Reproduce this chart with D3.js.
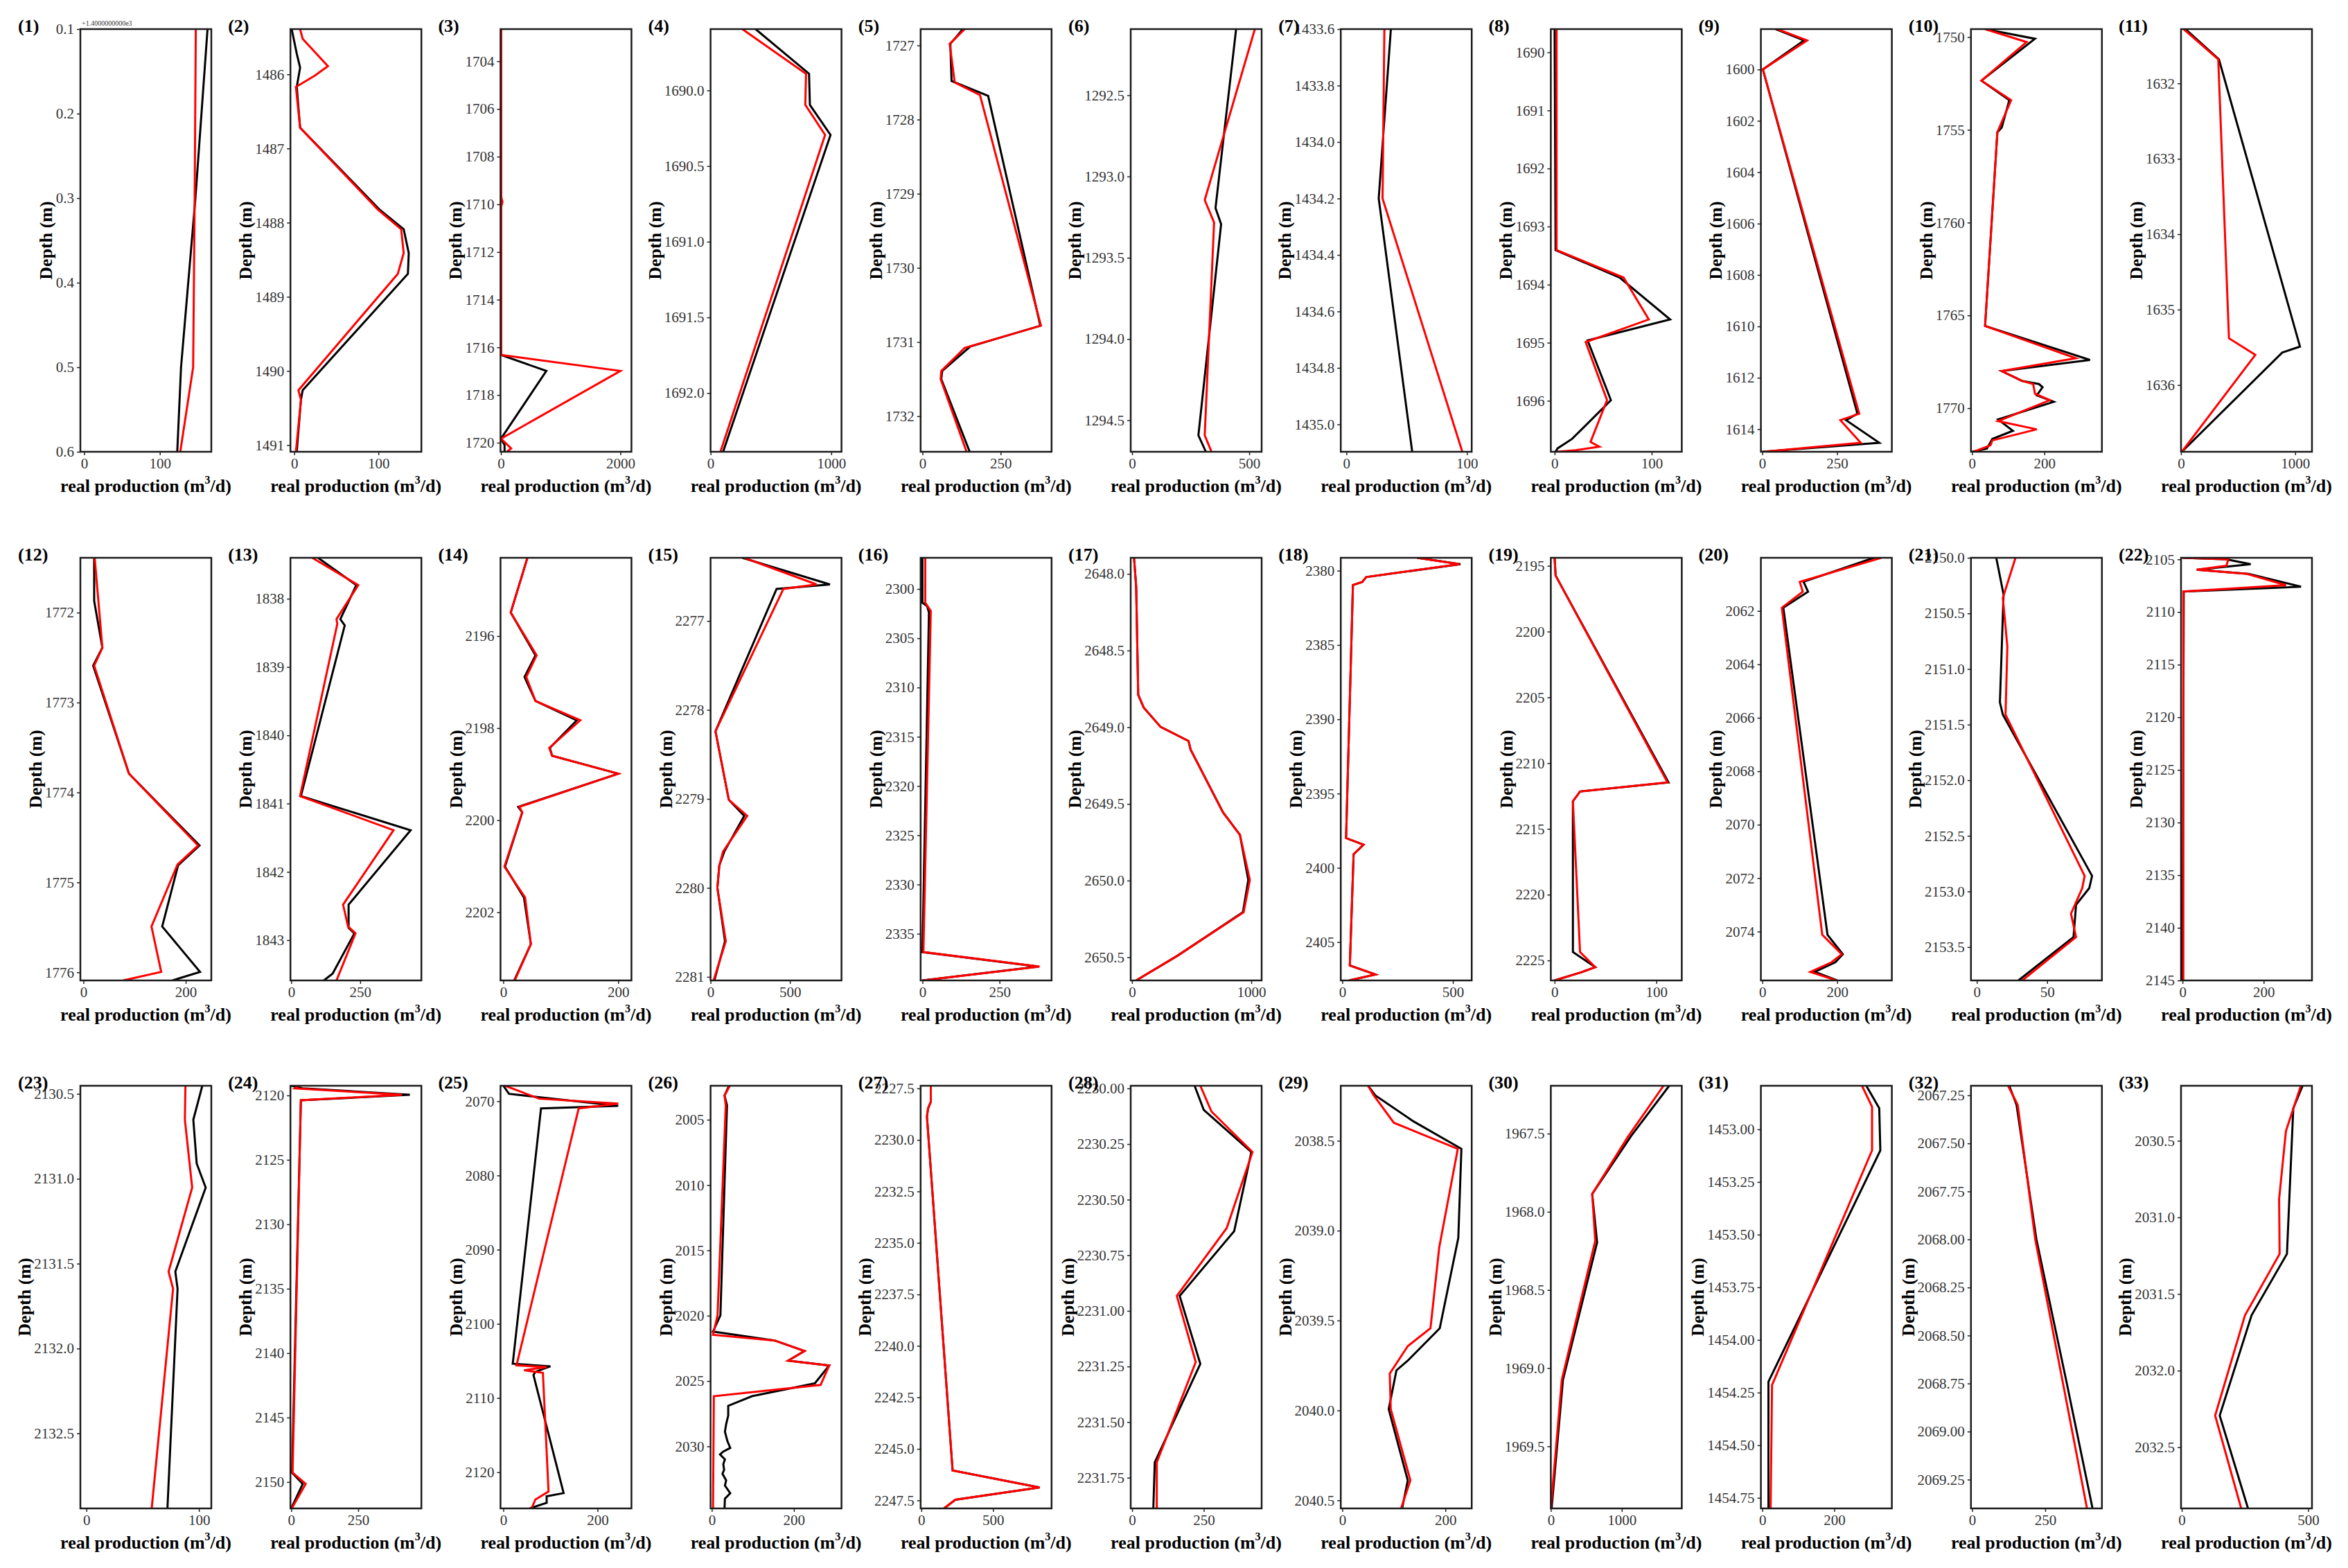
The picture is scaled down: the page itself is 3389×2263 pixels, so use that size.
<!DOCTYPE html>
<html><head><meta charset="utf-8">
<script src="https://cdn.jsdelivr.net/npm/d3@7"></script>
<style>body{margin:0;background:#fff}</style>
</head><body>
<script>
// ---------------- DATA ----------------
const panelLabels = ["(1)","(2)","(3)","(4)","(5)","(6)","(7)","(8)","(9)","(10)","(11)","(12)","(13)","(14)","(15)","(16)","(17)","(18)","(19)","(20)","(21)","(22)","(23)","(24)","(25)","(26)","(27)","(28)","(29)","(30)","(31)","(32)","(33)"];

const yDomains = [[0.1,0.6],[1485.39,1491.09],[1702.65,1720.38],[1689.595,1692.388],[1726.78,1732.48],[1292.093,1294.694],[1433.6,1435.097],[1689.6,1696.878],[1598.43,1614.88],[1749.57,1772.35],[1631.28,1636.885],
[1771.39,1776.09],[1837.40,1843.59],[2194.30,2203.48],[2276.29,2281.04],[2296.83,2339.74],[2647.895,2650.651],[2379.13,2407.58],[2194.39,2226.52],[2060.01,2075.83],[2150.0,2153.80],[2104.85,2145.0],
[2130.452,2132.942],[2119.25,2152.05],[2067.91,2124.88],[2002.4,2034.75],[2227.37,2247.89],[2229.988,2231.888],[2038.194,2040.545],[1967.194,1969.897],[1452.793,1454.80],[2067.2,2069.40],[2030.141,2032.899]];

const yTicks = [
["0.1","0.2","0.3","0.4","0.5","0.6"],
["1486","1487","1488","1489","1490","1491"],
["1704","1706","1708","1710","1712","1714","1716","1718","1720"],
["1690.0","1690.5","1691.0","1691.5","1692.0"],
["1727","1728","1729","1730","1731","1732"],
["1292.5","1293.0","1293.5","1294.0","1294.5"],
["1433.6","1433.8","1434.0","1434.2","1434.4","1434.6","1434.8","1435.0"],
["1690","1691","1692","1693","1694","1695","1696"],
["1600","1602","1604","1606","1608","1610","1612","1614"],
["1750","1755","1760","1765","1770"],
["1632","1633","1634","1635","1636"],
["1772","1773","1774","1775","1776"],
["1838","1839","1840","1841","1842","1843"],
["2196","2198","2200","2202"],
["2277","2278","2279","2280","2281"],
["2300","2305","2310","2315","2320","2325","2330","2335"],
["2648.0","2648.5","2649.0","2649.5","2650.0","2650.5"],
["2380","2385","2390","2395","2400","2405"],
["2195","2200","2205","2210","2215","2220","2225"],
["2062","2064","2066","2068","2070","2072","2074"],
["2150.0","2150.5","2151.0","2151.5","2152.0","2152.5","2153.0","2153.5"],
["2105","2110","2115","2120","2125","2130","2135","2140","2145"],
["2130.5","2131.0","2131.5","2132.0","2132.5"],
["2120","2125","2130","2135","2140","2145","2150"],
["2070","2080","2090","2100","2110","2120"],
["2005","2010","2015","2020","2025","2030"],
["2227.5","2230.0","2232.5","2235.0","2237.5","2240.0","2242.5","2245.0","2247.5"],
["2230.00","2230.25","2230.50","2230.75","2231.00","2231.25","2231.50","2231.75"],
["2038.5","2039.0","2039.5","2040.0","2040.5"],
["1967.5","1968.0","1968.5","1969.0","1969.5"],
["1453.00","1453.25","1453.50","1453.75","1454.00","1454.25","1454.50","1454.75"],
["2067.25","2067.50","2067.75","2068.00","2068.25","2068.50","2068.75","2069.00","2069.25"],
["2030.5","2031.0","2031.5","2032.0","2032.5"]
];

const xDomains = [[-5,168],[-4.5,151],[-8,2185],[0,1085],[-6,413],[-6,553],[-4.7,104],[-3.9,131],[-4.6,433],[-3,359],[0,1147],
[-6,250],[-3,472],[-4.8,223],[0,825],[-6,419],[-11,1087],[-7,585],[-3.7,125],[-4,346],[-4.2,89],[-3.7,319],
[-5.4,111],[-3,486],[-6,272],[-3,316],[-5,908],[-5,452],[-3,251],[0,1845],[-4,360],[-4,444],[-3,515]];

const xTicks = [[0,100],[0,100],[0,2000],[0,1000],[0,250],[0,500],[0,100],[0,100],[0,250],[0,200],[0,1000],
[0,200],[0,250],[0,200],[0,500],[0,250],[0,1000],[0,500],[0,100],[0,200],[0,50],[0,200],
[0,100],[0,250],[0,200],[0,200],[0,500],[0,250],[0,200],[0,1000],[0,200],[0,250],[0,500]];

const offsetTexts = ["+1.4000000000e3"];

// series: [depth, real production]; black = actual, red = predicted
const blk1 = [[0.1,163],[0.3,147],[0.5,128],[0.6,123]];
const red1 = [[0.1,147.5],[0.3,146],[0.5,144],[0.6,127]];
const blk2 = [[1485.39,-3],[1485.72,3],[1485.91,7],[1486.17,3],[1486.72,7],[1487.82,101],[1488.09,130],[1488.41,136],[1488.69,135],[1490.26,10],[1490.39,8],[1491.09,3]];
const red2 = [[1485.39,7],[1485.52,10],[1485.89,40],[1486.02,24],[1486.17,2],[1486.72,7],[1487.82,99],[1488.09,127],[1488.41,130],[1488.69,123],[1490.26,5],[1490.39,8],[1491.09,2]];
const blk3 = [[1702.65,0],[1716.32,0],[1716.99,760],[1719.83,0],[1720.1,60],[1720.38,60]];
const red3 = [[1702.65,5],[1709.7,5],[1709.9,25],[1710.1,5],[1716.32,5],[1716.99,2000],[1719.83,0],[1720.24,170],[1720.38,100]];
const blk4 = [[1689.595,373],[1689.89,816],[1690.096,823],[1690.294,994],[1692.388,104]];
const red4 = [[1689.595,263],[1689.89,791],[1690.096,785],[1690.294,949],[1692.388,82]];
const blk5 = [[1726.78,129],[1726.98,89],[1727.48,93],[1727.68,210],[1730.78,377],[1731.06,153],[1731.39,63],[1731.5,60],[1732.48,151]];
const red5 = [[1726.78,135],[1726.98,87],[1727.5,103],[1727.67,184],[1730.78,379],[1731.08,135],[1731.39,60],[1731.5,58],[1732.48,141]];
const blk6 = [[1292.093,444],[1293.194,356],[1293.293,380],[1294.593,283],[1294.694,315]];
const red6 = [[1292.093,524],[1293.145,310],[1293.283,350],[1294.593,310],[1294.694,339]];
const blk7 = [[1433.6,36.9],[1434.2,26.8],[1435.097,54.6]];
const red7 = [[1433.6,31.5],[1434.2,30],[1435.097,96.2]];
const blk8 = [[1689.6,0],[1693.406,1],[1693.878,67],[1694.6,119],[1694.96,34],[1695.99,58],[1696.656,18],[1696.82,3],[1696.878,1]];
const red8 = [[1689.6,2],[1693.406,2],[1693.878,71],[1694.6,97],[1694.99,32],[1695.99,54],[1696.71,37],[1696.79,46],[1696.85,22],[1696.878,3]];
const blk9 = [[1598.43,45],[1598.87,140],[1600.0,2],[1613.4,318],[1613.65,280],[1614.53,391],[1614.88,0]];
const red9 = [[1598.43,50],[1598.87,150],[1600.0,2],[1613.4,324],[1613.65,261],[1614.53,329],[1614.88,5]];
const blk10 = [[1749.57,36],[1750.09,174],[1752.35,26],[1753.4,103],[1754.87,82],[1755.13,70],[1765.57,36],[1767.4,326],[1768.0,82],[1768.53,138],[1768.7,185],[1768.87,195],[1769.31,179],[1769.66,226],[1770.61,72],[1771.22,113],[1771.66,56],[1772.18,41],[1772.35,0]];
const red10 = [[1749.57,36],[1750.27,151],[1752.35,26],[1753.4,108],[1755.13,70],[1765.57,36],[1767.31,287],[1768.0,82],[1768.53,138],[1768.7,169],[1769.22,174],[1769.57,215],[1770.7,72],[1771.14,179],[1771.74,56],[1772.0,51],[1772.35,5]];
const blk11 = [[1631.28,39],[1631.68,332],[1635.49,1042],[1635.57,886],[1636.885,7]];
const red11 = [[1631.28,23],[1631.68,326],[1635.38,420],[1635.6,651],[1636.885,7]];
const blk12 = [[1771.39,21],[1771.87,21],[1772.39,37],[1772.59,19],[1773.79,89],[1774.59,227],[1774.81,185],[1775.49,154],[1775.995,228],[1776.09,174]];
const red12 = [[1771.39,22],[1772.39,37],[1772.59,21],[1773.79,89],[1774.59,224],[1774.8,184],[1775.49,133],[1775.995,152],[1776.09,78]];
const blk13 = [[1837.40,97],[1837.80,236],[1838.30,178],[1838.39,194],[1840.89,35],[1841.39,433],[1842.48,208],[1842.82,208],[1842.9,229],[1843.49,150],[1843.59,118]];
const red13 = [[1837.40,76],[1837.80,243],[1838.30,164],[1838.37,167],[1840.89,32],[1841.39,371],[1842.48,188],[1842.80,206],[1842.9,233],[1843.59,164]];
const blk14 = [[2194.30,42],[2195.49,13],[2196.42,56],[2196.89,37],[2197.41,56],[2197.83,128],[2198.43,81],[2198.6,85],[2198.99,200],[2199.71,26],[2199.83,33],[2201.01,3],[2201.68,36],[2202.69,48],[2203.48,19]];
const red14 = [[2194.30,42],[2195.49,13],[2196.42,58],[2196.89,40],[2197.41,56],[2197.83,134],[2198.43,80],[2198.6,85],[2198.99,200],[2199.71,28],[2199.83,33],[2201.01,2],[2201.68,38],[2202.69,48],[2203.48,20]];
const blk15 = [[2276.29,200],[2276.59,752],[2276.64,416],[2278.24,31],[2279.01,115],[2279.19,212],[2279.59,87],[2279.75,55],[2280.0,43],[2280.6,91],[2281.04,24]];
const red15 = [[2276.29,212],[2276.59,668],[2276.64,459],[2278.24,31],[2279.01,115],[2279.19,231],[2279.59,79],[2279.75,55],[2280.0,43],[2280.6,96],[2281.04,19]];
const blk16 = [[2296.83,0],[2301.4,0],[2301.73,15],[2302.39,21],[2336.86,0],[2338.33,376],[2339.74,0]];
const red16 = [[2296.83,9],[2301.4,9],[2302.22,27],[2336.86,3],[2338.33,380],[2339.74,2]];
const blk17 = [[2647.895,17],[2648.084,35],[2648.788,52],[2648.872,98],[2648.998,240],[2649.09,474],[2649.145,491],[2649.555,763],[2649.702,905],[2649.996,975],[2650.206,930],[2650.49,381],[2650.651,35]];
const red17 = [[2647.895,17],[2648.084,35],[2648.788,52],[2648.872,98],[2648.998,240],[2649.09,474],[2649.145,491],[2649.555,763],[2649.702,905],[2649.996,988],[2650.206,936],[2650.49,381],[2650.651,35]];
const blk18 = [[2379.13,338],[2379.56,534],[2380.43,108],[2380.76,90],[2380.97,48],[2398.0,17],[2398.44,96],[2399.09,51],[2406.57,34],[2407.18,150],[2407.58,31]];
const red18 = [[2379.13,338],[2379.56,530],[2380.43,108],[2380.76,90],[2380.97,48],[2398.0,17],[2398.44,96],[2399.09,51],[2406.57,34],[2407.18,150],[2407.58,31]];
const blk19 = [[2194.39,0],[2195.74,1],[2211.47,112],[2212.16,25],[2212.9,18],[2224.36,18],[2225.51,40],[2225.88,27],[2226.52,0]];
const red19 = [[2194.39,0],[2195.74,1],[2211.47,111],[2212.16,25],[2212.9,18],[2224.36,25],[2225.51,40],[2225.88,27],[2226.52,0]];
const blk20 = [[2060.01,298],[2060.91,110],[2061.28,122],[2061.88,56],[2074.12,174],[2074.85,215],[2075.15,195],[2075.51,140],[2075.83,200]];
const red20 = [[2060.01,318],[2060.91,100],[2061.28,108],[2061.88,52],[2074.12,160],[2074.85,212],[2075.15,185],[2075.51,128],[2075.83,198]];
const blk21 = [[2150.0,13.8],[2150.33,19],[2151.30,16.4],[2151.41,18.5],[2152.86,82],[2152.97,80],[2153.12,70.6],[2153.41,68.8],[2153.80,29.6]];
const red21 = [[2150.0,27.5],[2150.36,18.5],[2150.8,21.7],[2151.41,20.4],[2152.86,76.7],[2152.97,75],[2153.2,67],[2153.41,70.6],[2153.80,32.3]];
const blk22 = [[2104.85,0],[2105.0,108],[2105.46,168],[2105.98,35],[2106.38,163],[2107.6,292],[2108.06,3],[2145.0,0]];
const red22 = [[2104.85,0],[2105.0,113],[2105.61,108],[2105.98,35],[2106.38,159],[2107.45,255],[2108.06,2],[2145.0,2]];
const blk23 = [[2130.452,103],[2130.652,95],[2130.91,98],[2131.052,106],[2131.547,79],[2131.648,81],[2132.942,72]];
const red23 = [[2130.452,88],[2130.652,87.5],[2131.052,94],[2131.547,73],[2131.648,77],[2132.942,58]];
const blk24 = [[2119.25,0],[2119.45,43],[2119.95,443],[2120.38,36],[2149.27,3],[2150.15,43],[2152.05,0]];
const red24 = [[2119.25,28],[2119.45,14],[2119.95,414],[2120.38,36],[2149.27,5],[2150.15,54],[2152.05,2]];
const blk25 = [[2067.91,0],[2069.0,12],[2070.61,244],[2070.96,80],[2105.38,20],[2105.73,100],[2106.47,68],[2106.9,64],[2122.82,128],[2123.25,92],[2124.13,92],[2124.88,56]];
const red25 = [[2067.91,4],[2069.65,76],[2070.31,244],[2070.96,160],[2105.6,28],[2105.82,92],[2106.26,44],[2106.6,84],[2122.6,96],[2123.69,68],[2124.88,60]];
const blk26 = [[2002.4,42],[2003.14,31],[2003.89,37],[2019.97,21],[2021.21,3],[2021.9,153],[2022.7,226],[2023.44,186],[2023.81,286],[2025.18,251],[2026.16,98],[2026.9,40],[2027.65,40],[2028.3,35],[2028.88,32],[2029.6,38],[2030.12,45],[2030.4,28],[2030.62,20],[2031.0,32],[2031.36,28],[2031.8,30],[2032.1,26],[2032.6,35],[2033.0,32],[2033.59,45],[2034.0,32],[2034.75,31]];
const red26 = [[2002.4,44],[2003.14,31],[2003.89,34],[2019.97,14],[2021.46,3],[2021.9,153],[2022.7,226],[2023.44,186],[2023.81,286],[2025.3,265],[2026.16,5],[2034.75,3]];
const blk27 = [[2227.37,66],[2228.15,66],[2228.47,47],[2228.86,39],[2246.05,218],[2246.87,824],[2247.47,237],[2247.89,158]];
const red27 = [[2227.37,66],[2228.15,66],[2228.47,47],[2228.86,39],[2246.05,218],[2246.87,824],[2247.47,237],[2247.89,158]];
const blk28 = [[2229.988,218],[2230.097,250],[2230.286,416],[2230.642,356],[2230.933,166],[2231.238,238],[2231.681,79],[2231.888,74]];
const red28 = [[2229.988,238],[2230.104,277],[2230.286,420],[2230.628,330],[2230.933,156],[2231.23,222],[2231.681,86],[2231.888,86]];
const blk29 = [[2038.194,50],[2038.248,64],[2038.392,138],[2038.545,231],[2039.04,225],[2039.543,189],[2039.723,127],[2039.777,105],[2039.993,90],[2040.389,127],[2040.545,116]];
const red29 = [[2038.194,50],[2038.248,61],[2038.4,100],[2038.545,224],[2039.093,188],[2039.543,171],[2039.642,127],[2039.795,92],[2039.993,94],[2040.389,132],[2040.545,114]];
const blk30 = [[1967.194,1668],[1967.514,1134],[1967.886,583],[1968.196,652],[1969.074,171],[1969.897,11]];
const red30 = [[1967.194,1588],[1967.525,1080],[1967.886,583],[1968.186,626],[1969.074,155],[1969.897,0]];
const blk31 = [[1452.793,289],[1452.9,325],[1453.1,328],[1454.198,17],[1454.80,17]];
const red31 = [[1452.793,277],[1452.893,305],[1453.1,305],[1454.214,27],[1454.80,23]];
const blk32 = [[2067.2,127],[2067.30,152],[2068.0,220],[2068.75,324],[2069.40,412]];
const red32 = [[2067.2,123],[2067.30,156],[2068.0,216],[2068.75,311],[2069.40,393]];
const blk33 = [[2030.141,478],[2030.289,441],[2031.238,416],[2031.639,276],[2032.293,150],[2032.899,262]];
const red33 = [[2030.141,471],[2030.436,412],[2030.88,385],[2031.238,387],[2031.639,250],[2032.293,132],[2032.899,235]];

const actualSeries = [blk1,blk2,blk3,blk4,blk5,blk6,blk7,blk8,blk9,blk10,blk11,blk12,blk13,blk14,blk15,blk16,blk17,blk18,blk19,blk20,blk21,blk22,blk23,blk24,blk25,blk26,blk27,blk28,blk29,blk30,blk31,blk32,blk33];
const predSeries = [red1,red2,red3,red4,red5,red6,red7,red8,red9,red10,red11,red12,red13,red14,red15,red16,red17,red18,red19,red20,red21,red22,red23,red24,red25,red26,red27,red28,red29,red30,red31,red32,red33];

// ---------------- LAYOUT ----------------
const W = 3389, H = 2263;
const left0 = 116, colStep = 303.2, boxW = 189, boxH = 610;
const rowTops = [42, 805, 1567];
const serif = "'Liberation Serif','Times New Roman',serif";

const svg = d3.select("body").append("svg").attr("width", W).attr("height", H)
  .style("background", "#fff");
svg.append("rect").attr("width", W).attr("height", H).attr("fill", "#fff");

panelLabels.forEach((lab, i) => {
  const row = Math.floor(i / 11), col = i % 11;
  const x0 = left0 + col * colStep, y0 = rowTops[row];
  const g = svg.append("g").attr("transform", `translate(${x0},${y0})`);
  const x = d3.scaleLinear().domain(xDomains[i]).range([0, boxW]);
  const y = d3.scaleLinear().domain(yDomains[i]).range([0, boxH]);

  // clip
  const cid = "clip" + i;
  g.append("clipPath").attr("id", cid).append("rect").attr("width", boxW).attr("height", boxH);

  // y axis
  const yt = yTicks[i];
  const ya = g.append("g").call(d3.axisLeft(y).tickValues(yt.map(Number))
      .tickFormat((d, k) => yt[k]).tickSize(5).tickPadding(4).tickSizeOuter(0));
  ya.select(".domain").remove();
  ya.selectAll("line").attr("stroke", "#222").attr("stroke-width", 1.5);
  ya.selectAll("text").attr("font-family", serif).attr("font-size", 21).attr("fill", "#333");

  // x axis
  const xa = g.append("g").attr("transform", `translate(0,${boxH})`)
    .call(d3.axisBottom(x).tickValues(xTicks[i]).tickFormat(d3.format("d")).tickSize(5).tickPadding(4).tickSizeOuter(0));
  xa.select(".domain").remove();
  xa.selectAll("line").attr("stroke", "#222").attr("stroke-width", 1.5);
  xa.selectAll("text").attr("font-family", serif).attr("font-size", 21).attr("fill", "#333");

  // lines
  const line = d3.line().x(d => x(d[1])).y(d => y(d[0]));
  const lg = g.append("g").attr("clip-path", `url(#${cid})`);
  lg.append("path").datum(actualSeries[i]).attr("d", line)
    .attr("fill", "none").attr("stroke", "#000").attr("stroke-width", 3).attr("stroke-linejoin", "miter");
  lg.append("path").datum(predSeries[i]).attr("d", line)
    .attr("fill", "none").attr("stroke", "#ff0000").attr("stroke-width", 3).attr("stroke-linejoin", "miter");

  // frame
  g.append("rect").attr("width", boxW).attr("height", boxH)
    .attr("fill", "none").attr("stroke", "#1a1a1a").attr("stroke-width", 2.5);

  // y label
  let maxW = 0;
  ya.selectAll("text").each(function () { maxW = Math.max(maxW, this.getBBox().width); });
  const cx = -5 - 4 - maxW - 14;
  g.append("text").attr("transform", `translate(${cx},${boxH / 2}) rotate(-90)`)
    .attr("text-anchor", "middle").attr("dy", "0.35em")
    .attr("font-family", serif).attr("font-weight", "bold").attr("font-size", 26)
    .text("Depth (m)");

  // x label
  const xl = g.append("text").attr("x", boxW / 2).attr("y", boxH + 58)
    .attr("text-anchor", "middle").attr("font-family", serif)
    .attr("font-weight", "bold").attr("font-size", 26);
  xl.append("tspan").text("real production (m");
  xl.append("tspan").attr("font-size", 16).attr("dy", -12).text("3");
  xl.append("tspan").attr("dy", 12).text("/d)");

  // panel label
  g.append("text").attr("x", -90).attr("y", 4)
    .attr("font-family", serif).attr("font-weight", "bold").attr("font-size", 26)
    .text(lab);

  if (i === 0) {
    g.append("text").attr("x", 2).attr("y", -5).attr("font-family", serif)
      .attr("font-size", 10).attr("fill", "#333").text(offsetTexts[0]);
  }
});
</script>
</body></html>
